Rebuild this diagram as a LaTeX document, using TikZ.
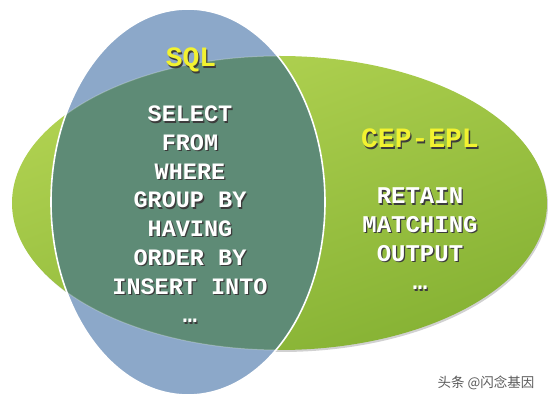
\documentclass[tikz,border=0pt]{standalone}
\usepackage{fontspec}
\usepackage{xcolor}
\usepackage{tikz}
\usetikzlibrary{positioning}

\newfontfamily\codefont{Liberation Mono}
\newfontfamily\cjkfont{Noto Sans CJK SC}

\definecolor{sql-blue}{RGB}{140,168,201}
\definecolor{both-green}{RGB}{94,139,118}
\definecolor{cep-light}{RGB}{178,211,82}
\definecolor{cep-dark}{RGB}{134,178,52}
\definecolor{title-yellow}{RGB}{242,242,48}
\definecolor{shadow-gray}{RGB}{60,60,60}

\newcommand{\shadowed}[1]{\makebox[0pt][l]{\hspace{1.3pt}\raisebox{-1.3pt}{\color{shadow-gray}#1}}#1}

\begin{document}
\begin{tikzpicture}
[
x=1pt, y=-1pt,
list-a/.style={text=white, inner sep=0pt, text height=17.5pt, text depth=10.8pt,
               font=\codefont\bfseries\fontsize{23.5}{28}\selectfont},
list-b/.style={list-a, font=\codefont\bfseries\fontsize{24}{28}\selectfont},
title-a/.style={text=title-yellow, inner sep=0pt, text height=20pt, text depth=4pt,
                font=\codefont\bfseries\fontsize{28}{32}\selectfont},
mark-a/.style={text=black!65, inner sep=0pt, font=\cjkfont\fontsize{13.5}{15}\selectfont}
]
\useasboundingbox (0,0) rectangle (550,403);

% the two sets
\fill [black, opacity=0.18] (281,205) ellipse [x radius=267, y radius=147];
\shade [top color=cep-light, bottom color=cep-dark, shading angle=20]
      (279.5,203) ellipse [x radius=267.5, y radius=147];
\fill [sql-blue] (188,202) ellipse [x radius=137, y radius=193];
\begin{scope}
  \clip (188,202) ellipse [x radius=137, y radius=193];
  \fill [both-green] (279.5,203) ellipse [x radius=267.5, y radius=147];
  \draw [white, opacity=0.25, line width=1pt] (279.5,203) ellipse [x radius=267.5, y radius=147];
\end{scope}
\draw [white, line width=1.6pt] (188,202) ellipse [x radius=137, y radius=193];

% titles
\node (sql-title) [title-a] at (191,59)  {\shadowed{SQL}};
\node (cep-title) [title-a] at (420,140) {\shadowed{CEP-EPL}};

% SQL clauses
\node (sql-1) [list-a] at (190,118.5)              {\shadowed{SELECT}};
\node (sql-2) [list-a, below = 00.00mm of sql-1]   {\shadowed{FROM}};
\node (sql-3) [list-a, below = 00.00mm of sql-2]   {\shadowed{WHERE}};
\node (sql-4) [list-a, below = 00.00mm of sql-3]   {\shadowed{GROUP BY}};
\node (sql-5) [list-a, below = 00.00mm of sql-4]   {\shadowed{HAVING}};
\node (sql-6) [list-a, below = 00.00mm of sql-5]   {\shadowed{ORDER BY}};
\node (sql-7) [list-a, below = 00.00mm of sql-6]   {\shadowed{INSERT INTO}};
\node (sql-8) [list-a, below = 00.00mm of sql-7]   {\shadowed{…}};

% CEP-EPL clauses
\node (cep-1) [list-b] at (420,200.5)              {\shadowed{RETAIN}};
\node (cep-2) [list-b, below = 00.00mm of cep-1]   {\shadowed{MATCHING}};
\node (cep-3) [list-b, below = 00.00mm of cep-2]   {\shadowed{OUTPUT}};
\node (cep-4) [list-b, below = 00.00mm of cep-3]   {\shadowed{…}};

\node (mark) [mark-a] at (486,383) {头条 @闪念基因};

\end{tikzpicture}
\end{document}
